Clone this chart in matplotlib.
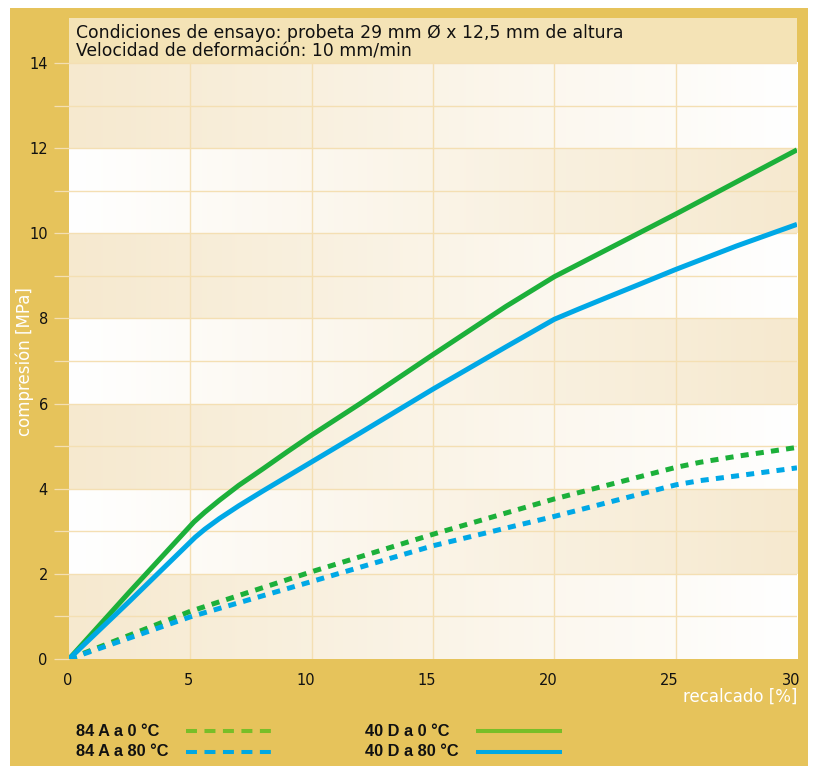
import numpy as np
import matplotlib
matplotlib.use("Agg")
import matplotlib.pyplot as plt
from matplotlib.patches import Rectangle
from matplotlib.lines import Line2D
from matplotlib.transforms import ScaledTranslation

plt.rcParams["font.family"] = ["DejaVu Sans"]
plt.rcParams["lines.scale_dashes"] = False

# ---------------- data ----------------
x_40d_0 = [0, 2.5, 5.15, 5.6, 6.2, 7, 8, 9, 10, 12, 15, 18, 20, 25, 30]
y_40d_0 = [0, 1.58, 3.22, 3.45, 3.73, 4.08, 4.47, 4.87, 5.26, 6.0, 7.15, 8.28, 8.98, 10.45, 11.96]

x_40d_80 = [0, 2.5, 5.2, 5.6, 6.2, 7, 8, 9, 10, 12, 15, 18, 20, 21, 22.2, 23.5, 25, 27.5, 30]
y_40d_80 = [0, 1.36, 2.86, 3.05, 3.3, 3.6, 3.95, 4.29, 4.63, 5.31, 6.34, 7.33, 7.98, 8.22, 8.5, 8.8, 9.15, 9.7, 10.21]

x_84a_0 = [0, 5, 10, 15, 20, 25, 26, 27.5, 30]
y_84a_0 = [0, 1.12, 2.05, 2.93, 3.76, 4.5, 4.62, 4.76, 4.97]

x_84a_80 = [0, 5, 10, 15, 20, 25, 26, 27.5, 30]
y_84a_80 = [0, 0.99, 1.82, 2.66, 3.35, 4.09, 4.19, 4.3, 4.49]

x_ticks = [0, 5, 10, 15, 20, 25, 30]
y_ticks = [0, 2, 4, 6, 8, 10, 12, 14]

title_lines = ["Condiciones de ensayo: probeta 29 mm Ø x 12,5 mm de altura",
               "Velocidad de deformación: 10 mm/min"]
x_label = "recalcado [%]"
y_label = "compresión [MPa]"
legend_labels = ["84 A a 0 °C", "84 A a 80 °C", "40 D a 0 °C", "40 D a 80 °C"]

# ---------------- style ----------------
W, H = 816, 766
GOLD = "#E6C35B"
GREEN = "#1CB03A"
BLUE = "#00A8E6"
LEG_GREEN = "#78BE28"
LEG_BLUE = "#00A8E1"
GRID = "#F4DFB3"
TAN = np.array([246, 233, 207]) / 255.0
WHITE = np.array([255, 255, 255]) / 255.0
TITLE_BAND = "#F4E3B6"
TXT = "#111111"

fig = plt.figure(figsize=(W / 100, H / 100), dpi=100)
fig.patch.set_facecolor("white")

# background overlay in pixel coordinates
bg = fig.add_axes([0, 0, 1, 1], zorder=-5)
bg.set_xlim(0, W)
bg.set_ylim(H, 0)
bg.axis("off")
bg.add_patch(Rectangle((10, 8), 798, H - 8, facecolor=GOLD, edgecolor="none"))

# main axes
ax_left, ax_right, ax_top, ax_bottom = 69, 797, 18, 659
ax = fig.add_axes([ax_left / W, 1 - ax_bottom / H,
                   (ax_right - ax_left) / W, (ax_bottom - ax_top) / H])
ax.set_facecolor("none")
ymax = 14 + (63 - 18) / ((659 - 63) / 14)

# banded gradient background
n = 256
t = np.linspace(0, 1, n)[:, None]
grad_tw = (TAN * (1 - t) + WHITE * t)[None, :, :]
grad_wt = (WHITE * (1 - t) + TAN * t)[None, :, :]
for i in range(7):
    y0 = 2 * i
    img = grad_tw if i % 2 == 0 else grad_wt
    ax.imshow(img, extent=[0, 30, y0, y0 + 2], aspect="auto",
              interpolation="bilinear", zorder=0)
ax.axhspan(14, ymax, facecolor=TITLE_BAND, edgecolor="none", zorder=0.5)

ax.set_xlim(0, 30)
ax.set_ylim(0, ymax)

# grid
for yv in range(1, 15):
    ax.axhline(yv, color=GRID, lw=1.0, zorder=1)
for xv in x_ticks[1:-1]:
    ax.plot([xv, xv], [0, 14], color=GRID, lw=1.0, zorder=1)

# data lines
lw = 3.6
ax.plot(x_84a_0, y_84a_0, color=GREEN, lw=lw, linestyle=(0, (5.8, 5.2)),
        dash_capstyle="butt", zorder=3)
ax.plot(x_84a_80, y_84a_80, color=BLUE, lw=lw, linestyle=(0, (5.8, 5.2)),
        dash_capstyle="butt", zorder=3)
ax.plot(x_40d_0, y_40d_0, color=GREEN, lw=lw, solid_capstyle="butt",
        solid_joinstyle="round", zorder=3)
ax.plot(x_40d_80, y_40d_80, color=BLUE, lw=lw, solid_capstyle="butt",
        solid_joinstyle="round", zorder=3)

for sp in ax.spines.values():
    sp.set_visible(False)

ax.set_xticks(x_ticks)
ax.set_xticklabels([str(v) for v in x_ticks])
ax.set_yticks(y_ticks)
ax.set_yticklabels([str(v) for v in y_ticks])
ax.set_yticks(list(range(1, 14, 2)), minor=True)
ax.tick_params(axis="x", length=0, pad=10, labelsize=10.5, labelcolor=TXT)
ax.tick_params(axis="y", which="both", length=10.8, width=0.9, color=GRID,
               direction="out", pad=4.5, labelsize=10.5, labelcolor=TXT)
offset = ScaledTranslation(3 / 100, 0, fig.dpi_scale_trans)
for lab in ax.get_xticklabels():
    lab.set_horizontalalignment("right")
    lab.set_transform(lab.get_transform() + offset)

# title text
fig.text(76 / W, 1 - 33 / H, title_lines[0], fontsize=12.4, color=TXT,
         ha="left", va="center")
fig.text(76 / W, 1 - 52 / H, title_lines[1], fontsize=12.4, color=TXT,
         ha="left", va="center")

# axis labels
fig.text(797 / W, 1 - 697 / H, x_label, fontsize=12, color="white",
         ha="right", va="center")
fig.text(25 / W, 1 - 362 / H, y_label, fontsize=12, color="white",
         ha="center", va="center", rotation=90)

# legend (manual, in pixel coords)
leg_items = [
    (76, 731, 186, 271, LEG_GREEN, (0, (7.9, 5.4)), legend_labels[0]),
    (76, 752, 186, 271, LEG_BLUE, (0, (7.9, 5.4)), legend_labels[1]),
    (365, 731, 476, 562, LEG_GREEN, "-", legend_labels[2]),
    (365, 752, 476, 562, LEG_BLUE, "-", legend_labels[3]),
]
for tx, ty, lx0, lx1, col, ls, lab in leg_items:
    bg.text(tx, ty, lab, fontsize=11.8, fontweight="bold", color=TXT,
            family=["Liberation Sans", "DejaVu Sans"], ha="left", va="center")
    bg.add_line(Line2D([lx0, lx1], [ty, ty], color=col, lw=2.9, linestyle=ls,
                       dash_capstyle="butt", solid_capstyle="butt"))

fig.savefig("out.png", dpi=100, facecolor=fig.get_facecolor())
